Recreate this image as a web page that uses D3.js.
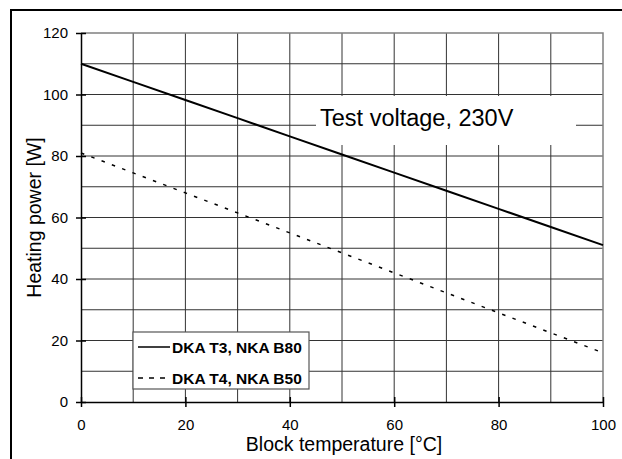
<!DOCTYPE html>
<html>
<head>
<meta charset="utf-8">
<script src="https://cdn.jsdelivr.net/npm/d3@7"></script>
<style>
  body { margin: 0; background: #fff; }
  svg { font-family: "Liberation Sans", Arial, sans-serif; }
</style>
</head>
<body>
<script>
(function(){

  //chart data
  var temps = [0, 10, 20, 30, 40, 50, 60, 70, 80, 90, 100];
  var powerT3 = [110, 104.1, 98.2, 92.3, 86.4, 80.5, 74.6, 68.7, 62.8, 56.9, 51];
  var powerT4 = [81, 74.5, 68, 61.5, 55, 48.5, 42, 35.5, 29, 22.5, 16];
  var seriesNames = ["DKA T3, NKA B80", "DKA T4, NKA B50"];
  var xTicks = [0, 20, 40, 60, 80, 100];
  var yTicks = [0, 20, 40, 60, 80, 100, 120];
  var gridSteps = d3.range(0, 121, 10);

  var width = 622, height = 459;
  var left = 81, right = 603, top = 33, bottom = 402;

  var svg = d3.select("body").append("svg")
      .attr("width", width)
      .attr("height", height);

  //outer frame (only top and left visible)
  svg.append("path")
      .attr("d", "M11,460 L11,10 L623,10")
      .attr("fill", "none")
      .attr("stroke", "#000")
      .attr("stroke-width", 2);

  var x = d3.scaleLinear().domain([0, 100]).range([left, right]);
  var y = d3.scaleLinear().domain([0, 120]).range([bottom, top]);

  //grid lines
  svg.append("g").selectAll("line.v")
      .data(gridSteps.filter(function(d){ return d > 0 && d < 100; }))
      .enter().append("line")
      .attr("x1", function(d){ return x(d); })
      .attr("x2", function(d){ return x(d); })
      .attr("y1", top).attr("y2", bottom)
      .attr("stroke", "#333").attr("stroke-width", 1);

  svg.append("g").selectAll("line.h")
      .data(gridSteps.filter(function(d){ return d > 0 && d < 120; }))
      .enter().append("line")
      .attr("x1", left).attr("x2", right)
      .attr("y1", function(d){ return y(d); })
      .attr("y2", function(d){ return y(d); })
      .attr("stroke", "#333").attr("stroke-width", 1);

  //plot frame top and right in gray
  svg.append("path")
      .attr("d", "M" + left + "," + top + " L" + right + "," + top + " L" + right + "," + bottom)
      .attr("fill", "none")
      .attr("stroke", "#808080")
      .attr("stroke-width", 1.5);

  //annotation box
  svg.append("rect")
      .attr("x", 316).attr("y", 96)
      .attr("width", 260).attr("height", 49)
      .attr("fill", "#fff");
  svg.append("text")
      .attr("x", 320).attr("y", 126)
      .attr("font-size", 23.5)
      .attr("fill", "#000")
      .text("Test voltage, 230V");

  //axes
  var xAxis = d3.axisBottom(x).tickValues(xTicks).tickSizeInner(5).tickSizeOuter(0).tickPadding(12);
  var yAxis = d3.axisLeft(y).tickValues(yTicks).tickSizeInner(5).tickSizeOuter(0).tickPadding(8);

  var gx = svg.append("g")
      .attr("transform", "translate(0," + bottom + ")")
      .call(xAxis);
  var gy = svg.append("g")
      .attr("transform", "translate(" + left + ",0)")
      .call(yAxis);

  [gx, gy].forEach(function(g){
      g.select(".domain").attr("stroke", "#000").attr("stroke-width", 1.5);
      g.selectAll(".tick line").attr("stroke", "#000").attr("stroke-width", 1.5);
      g.selectAll(".tick text")
          .attr("font-family", "Liberation Sans, Arial, sans-serif")
          .attr("font-size", 15)
          .attr("fill", "#000");
  });
  //ticks cross the axis line
  gx.selectAll(".tick line").attr("y1", -5).attr("y2", 5);
  gy.selectAll(".tick line").attr("x1", 5).attr("x2", -5);

  //axis titles
  svg.append("text")
      .attr("x", (left + right) / 2 + 2)
      .attr("y", 451)
      .attr("text-anchor", "middle")
      .attr("font-size", 19.5)
      .text("Block temperature [°C]");
  svg.append("text")
      .attr("transform", "translate(41," + ((top + bottom) / 2) + ") rotate(-90)")
      .attr("text-anchor", "middle")
      .attr("font-size", 19.5)
      .text("Heating power [W]");

  //data lines
  var line = d3.line()
      .x(function(d){ return x(d[0]); })
      .y(function(d){ return y(d[1]); });

  svg.append("path")
      .datum(d3.zip(temps, powerT3))
      .attr("d", line)
      .attr("fill", "none")
      .attr("stroke", "#000")
      .attr("stroke-width", 2);

  svg.append("path")
      .datum(d3.zip(temps, powerT4))
      .attr("d", line)
      .attr("fill", "none")
      .attr("stroke", "#000")
      .attr("stroke-width", 1.5)
      .attr("stroke-dasharray", "3.5,7.5");

  //legend
  var legend = svg.append("g");
  legend.append("rect")
      .attr("x", 133).attr("y", 332)
      .attr("width", 176).attr("height", 57)
      .attr("fill", "#fff")
      .attr("stroke", "#555")
      .attr("stroke-width", 1.2);

  var items = legend.selectAll("g.item")
      .data(seriesNames)
      .enter().append("g")
      .attr("transform", function(d, i){ return "translate(0," + (347 + i * 31) + ")"; });

  items.append("line")
      .attr("x1", 138).attr("x2", 170)
      .attr("y1", 0).attr("y2", 0)
      .attr("stroke", "#000")
      .attr("stroke-width", function(d, i){ return i === 0 ? 1.5 : 1.3; })
      .attr("stroke-dasharray", function(d, i){ return i === 0 ? null : "5,6"; });

  items.append("text")
      .attr("x", 172).attr("y", 5.5)
      .attr("font-size", 15.5)
      .attr("font-weight", "bold")
      .text(function(d){ return d; });

})();
</script>
</body>
</html>
